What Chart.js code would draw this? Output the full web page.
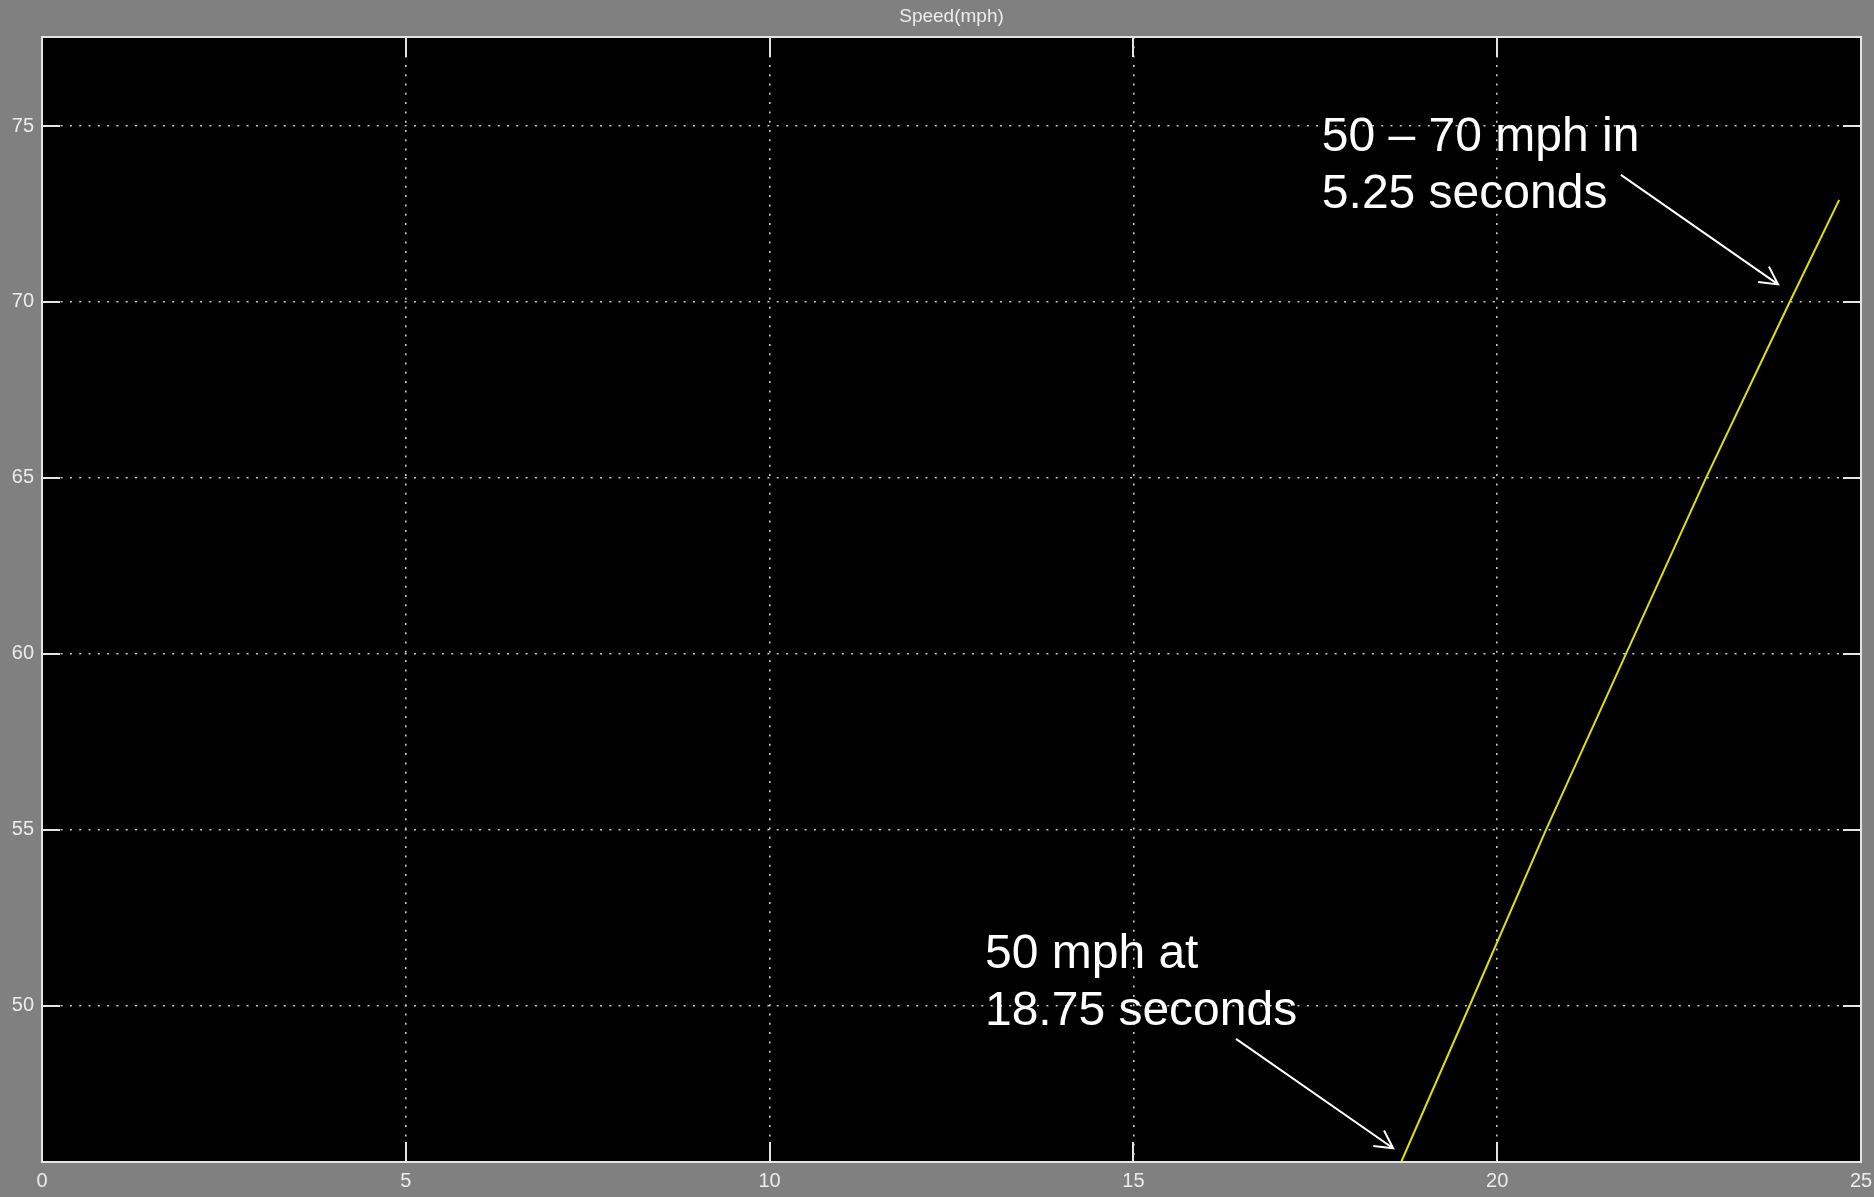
<!DOCTYPE html>
<html>
<head>
<meta charset="utf-8">
<script src="https://cdn.jsdelivr.net/npm/chart.js@4"></script>
<style>
  html,body{margin:0;padding:0;background:#808080;}
  #wrap{position:relative;width:1874px;height:1197px;}
</style>
</head>
<body>
<div id="wrap"><canvas id="chart"></canvas></div>
<script>
// data
const xTicks = [0, 5, 10, 15, 20, 25];
const yTicks = [50, 55, 60, 65, 70, 75];
const timeS = [18.68, 19.62, 20.67, 21.77, 22.87, 24.02, 24.70];
const speedMph = [45.56, 50, 55, 60, 65, 70, 72.9];
const xRange = [0, 25];
const yRange = [45.56, 77.53];
const title = "Speed(mph)";

// call-outs, in data units
const notes = [
  {lines: ["50 \u2013 70 mph in", "5.25 seconds"], x: 17.59, y: [74.29, 72.67], from: [21.70, 73.61], to: [23.86, 70.50]},
  {lines: ["50 mph at", "18.75 seconds"], x: 12.96, y: [51.07, 49.44], from: [16.41, 49.06], to: [18.57, 45.95]}
];

const FRAME = "#e4e4e4";

const scopePlugin = {
  id: "scope",
  beforeDraw(c){
    const {ctx, chartArea:a} = c;
    ctx.save();
    ctx.fillStyle = "#000";
    ctx.fillRect(a.left, a.top, a.right - a.left, a.bottom - a.top);
    ctx.restore();
  },
  afterDatasetsDraw(c){
    const {ctx, chartArea:a, scales:{x, y}} = c;
    ctx.save();
    // inner tick marks
    ctx.strokeStyle = FRAME; ctx.lineWidth = 2;
    ctx.beginPath();
    yTicks.forEach(v => {
      const py = Math.round(y.getPixelForValue(v));
      ctx.moveTo(a.left, py); ctx.lineTo(a.left + 18, py);
      ctx.moveTo(a.right, py); ctx.lineTo(a.right - 18, py);
    });
    xTicks.forEach(v => {
      const px = Math.round(x.getPixelForValue(v));
      ctx.moveTo(px, a.bottom); ctx.lineTo(px, a.bottom - 20);
      ctx.moveTo(px, a.top); ctx.lineTo(px, a.top + 20);
    });
    ctx.stroke();
    // frame
    ctx.strokeRect(a.left, a.top, a.right - a.left, a.bottom - a.top);

    // title
    ctx.fillStyle = "#ececec";
    ctx.font = "19px 'Liberation Sans', Arial, sans-serif";
    ctx.textAlign = "center"; ctx.textBaseline = "middle";
    ctx.fillText(title, (a.left + a.right) / 2, 17);

    // annotations
    ctx.fillStyle = "#fff"; ctx.strokeStyle = "#fff"; ctx.lineWidth = 2;
    ctx.font = "48px 'Liberation Sans', Arial, sans-serif";
    ctx.textAlign = "left"; ctx.textBaseline = "alphabetic";
    notes.forEach(n => {
      n.lines.forEach((t, i) => ctx.fillText(t, x.getPixelForValue(n.x), y.getPixelForValue(n.y[i])));
      const x0 = x.getPixelForValue(n.from[0]), y0 = y.getPixelForValue(n.from[1]);
      const x1 = x.getPixelForValue(n.to[0]), y1 = y.getPixelForValue(n.to[1]);
      const ang = Math.atan2(y0 - y1, x0 - x1), h = 20, sp = 28 * Math.PI / 180;
      ctx.beginPath();
      ctx.moveTo(x0, y0); ctx.lineTo(x1, y1);
      ctx.moveTo(x1 + h * Math.cos(ang - sp), y1 + h * Math.sin(ang - sp));
      ctx.lineTo(x1, y1);
      ctx.lineTo(x1 + h * Math.cos(ang + sp), y1 + h * Math.sin(ang + sp));
      ctx.stroke();
    });
    ctx.restore();
  }
};

const tickFont = {family: "'Liberation Sans', Arial, sans-serif", size: 20};
const gridOpts = {color: "#c8c8c8", lineWidth: 1.6, drawTicks: false};

new Chart(document.getElementById("chart"), {
  type: "line",
  data: {
    datasets: [{
      data: timeS.map((t, i) => ({x: t, y: speedMph[i]})),
      borderColor: "#e0e000",
      borderWidth: 2,
      pointRadius: 0,
      tension: 0,
      fill: false
    }]
  },
  options: {
    responsive: true,
    maintainAspectRatio: false,
    animation: false,
    layout: {padding: {top: 37, right: 13, left: 0, bottom: 0}},
    plugins: {legend: {display: false}, tooltip: {enabled: false}},
    scales: {
      x: {
        type: "linear", min: xRange[0], max: xRange[1],
        afterBuildTicks: s => { s.ticks = xTicks.map(v => ({value: v})); },
        afterFit: s => { s.height = 35; s.paddingLeft = 0; s.paddingRight = 0; },
        grid: gridOpts,
        border: {display: false, dash: [2, 7.3]},
        ticks: {color: "#ececec", font: tickFont, padding: 7, maxRotation: 0, callback: v => String(v)}
      },
      y: {
        type: "linear", min: yRange[0], max: yRange[1],
        afterBuildTicks: s => { s.ticks = yTicks.map(v => ({value: v})); },
        afterFit: s => { s.width = 42; s.paddingTop = 0; s.paddingBottom = 0; },
        grid: gridOpts,
        border: {display: false, dash: [2, 7.3]},
        ticks: {color: "#ececec", font: tickFont, padding: 8, callback: v => String(v)}
      }
    }
  },
  plugins: [scopePlugin]
});
</script>
</body>
</html>
